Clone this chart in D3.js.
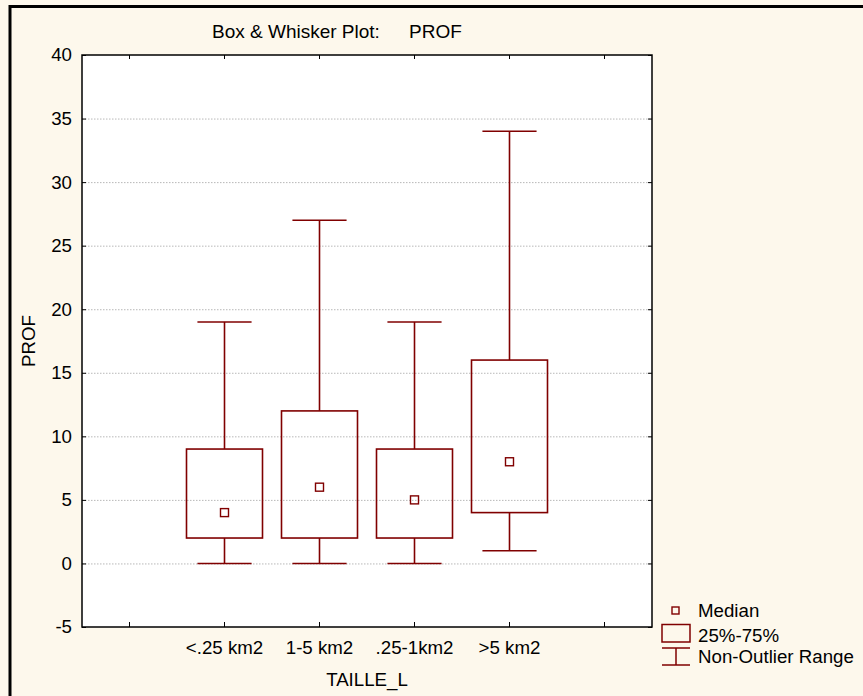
<!DOCTYPE html>
<html>
<head>
<meta charset="utf-8">
<script src="https://cdn.jsdelivr.net/npm/d3@7"></script>
<style>
  html, body { margin: 0; padding: 0; background: #fdf8ec; }
  svg { display: block; }
  text { font-family: "Liberation Sans", Arial, sans-serif; fill: #000; }
</style>
</head>
<body>
<svg id="chart" width="863" height="696"></svg>
<script>
// ---- data ----
const categories = ["<.25 km2", "1-5 km2", ".25-1km2", ">5 km2"];
const minVals    = [0, 0, 0, 1];
const q1Vals     = [2, 2, 2, 4];
const medianVals = [4, 6, 5, 8];
const q3Vals     = [9, 12, 9, 16];
const maxVals    = [19, 27, 19, 34];
const yTicks     = [-5, 0, 5, 10, 15, 20, 25, 30, 35, 40];
const legendLabels = ["Median", "25%-75%", "Non-Outlier Range"];

// ---- layout ----
const W = 863, H = 696;
const pLeft = 82, pRight = 652, pTop = 55, pBottom = 627;
const boxColor = "#800000";
const fontSize = 18.7;

const svg = d3.select("#chart");

// outer frame
svg.append("rect").attr("x", 0).attr("y", 0).attr("width", W).attr("height", H).attr("fill", "#fdf8ec");
svg.append("path")
  .attr("d", `M10,${H + 5} L10,6.5 L${W + 5},6.5`)
  .attr("fill", "none").attr("stroke", "#000").attr("stroke-width", 3);

const slots = ["_pad0", ...categories, "_pad1"];
const x = d3.scaleBand().domain(slots).range([pLeft, pRight]).padding(0);
const y = d3.scaleLinear().domain([-5, 40]).range([pBottom, pTop]);

// plot background
svg.append("rect").attr("x", pLeft).attr("y", pTop)
  .attr("width", pRight - pLeft).attr("height", pBottom - pTop).attr("fill", "#fff");

// gridlines
svg.append("g").attr("transform", `translate(${pLeft},0)`)
  .call(d3.axisLeft(y).tickValues(yTicks.filter(v => v > -5 && v < 40))
    .tickSize(-(pRight - pLeft)).tickFormat(""))
  .call(g => g.select(".domain").remove())
  .call(g => g.selectAll("line").attr("stroke", "#b8b8b8").attr("stroke-dasharray", "1.5,1.5"));

// left axis (inward ticks)
svg.append("g").attr("transform", `translate(${pLeft},0)`)
  .call(d3.axisLeft(y).tickValues(yTicks).tickSizeInner(-4).tickSizeOuter(0).tickPadding(10)
    .tickFormat(d => String(d)))
  .call(g => g.select(".domain").remove())
  .call(g => g.selectAll("text").attr("font-size", fontSize).attr("font-family", null))
  .call(g => g.selectAll("line").attr("stroke", "#000"));

// right axis ticks
svg.append("g").attr("transform", `translate(${pRight},0)`)
  .call(d3.axisRight(y).tickValues(yTicks).tickSizeInner(-4).tickSizeOuter(0).tickFormat(""))
  .call(g => g.select(".domain").remove());

// bottom axis
const fmt = d => d.startsWith("_pad") ? "" : d;
svg.append("g").attr("transform", `translate(0,${pBottom})`)
  .call(d3.axisBottom(x).tickSizeInner(-5).tickSizeOuter(0).tickPadding(14).tickFormat(fmt))
  .call(g => g.select(".domain").remove())
  .call(g => g.selectAll("text").attr("font-size", fontSize).attr("font-family", null));

// top axis ticks
svg.append("g").attr("transform", `translate(0,${pTop})`)
  .call(d3.axisTop(x).tickSizeInner(-4).tickSizeOuter(0).tickFormat(""))
  .call(g => g.select(".domain").remove());

// plot border
svg.append("rect").attr("x", pLeft).attr("y", pTop)
  .attr("width", pRight - pLeft).attr("height", pBottom - pTop)
  .attr("fill", "none").attr("stroke", "#000").attr("stroke-width", 1.5);

// boxes
const bw = x.bandwidth();
const boxW = bw * 0.8, capW = bw * 0.57, medS = 8;
const g = svg.append("g").attr("stroke", boxColor).attr("stroke-width", 1.6).attr("fill", "none");
categories.forEach((c, i) => {
  const cx = x(c) + bw / 2;
  // whiskers
  g.append("line").attr("x1", cx).attr("x2", cx).attr("y1", y(maxVals[i])).attr("y2", y(q3Vals[i]));
  g.append("line").attr("x1", cx).attr("x2", cx).attr("y1", y(q1Vals[i])).attr("y2", y(minVals[i]));
  g.append("line").attr("x1", cx - capW / 2).attr("x2", cx + capW / 2).attr("y1", y(maxVals[i])).attr("y2", y(maxVals[i]));
  g.append("line").attr("x1", cx - capW / 2).attr("x2", cx + capW / 2).attr("y1", y(minVals[i])).attr("y2", y(minVals[i]));
  // box
  g.append("rect").attr("x", cx - boxW / 2).attr("y", y(q3Vals[i]))
    .attr("width", boxW).attr("height", y(q1Vals[i]) - y(q3Vals[i]));
  // median
  g.append("rect").attr("x", cx - medS / 2).attr("y", y(medianVals[i]) - medS / 2)
    .attr("width", medS).attr("height", medS).attr("stroke-width", 1.4);
});

// title
svg.append("text").attr("x", 212).attr("y", 38).attr("font-size", 19).text("Box & Whisker Plot:");
svg.append("text").attr("x", 409).attr("y", 38).attr("font-size", 19).text("PROF");

// axis titles
svg.append("text").attr("x", (pLeft + pRight) / 2).attr("y", 686).attr("text-anchor", "middle")
  .attr("font-size", fontSize).text("TAILLE_L");
svg.append("text").attr("transform", `translate(35,${(pTop + pBottom) / 2}) rotate(-90)`)
  .attr("text-anchor", "middle").attr("font-size", fontSize).text("PROF");

// legend
const lg = svg.append("g");
const lx = 676, tx = 698;
lg.append("rect").attr("x", lx - 4).attr("y", 607).attr("width", 7).attr("height", 7)
  .attr("fill", "none").attr("stroke", boxColor).attr("stroke-width", 1.4);
lg.append("rect").attr("x", 662).attr("y", 624.5).attr("width", 28).attr("height", 17.5)
  .attr("fill", "none").attr("stroke", boxColor).attr("stroke-width", 1.5);
lg.append("path").attr("d", `M662,648 L690,648 M${lx},648 L${lx},665 M662,665 L690,665`)
  .attr("fill", "none").attr("stroke", boxColor).attr("stroke-width", 1.5);
[617, 641.5, 663].forEach((yy, i) => {
  lg.append("text").attr("x", tx).attr("y", yy).attr("font-size", fontSize).text(legendLabels[i]);
});
</script>
</body>
</html>
